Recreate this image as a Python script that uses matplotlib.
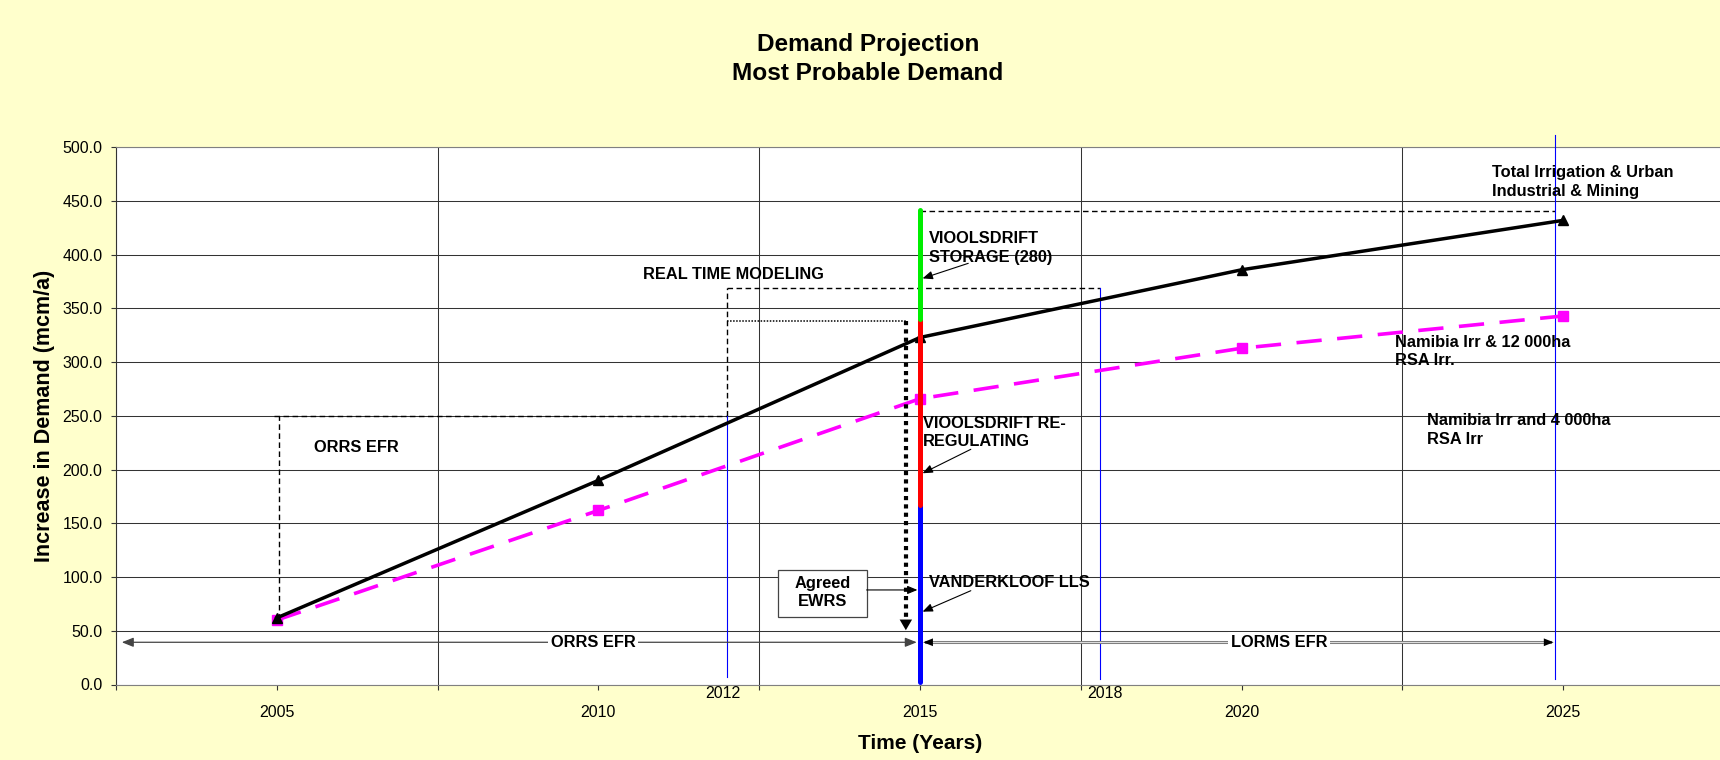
import matplotlib.pyplot as plt
from matplotlib.patches import Rectangle
from matplotlib.transforms import blended_transform_factory

plt.rcParams['font.family'] = ['Liberation Sans', 'DejaVu Sans']

# Demand series (mcm/a)
years = [2005, 2010, 2015, 2020, 2025]
total_demand = [62, 190, 323, 386, 432]
namibia_rsa_irr = [60, 162, 266, 313, 343]

# Supply options stacked at 2015: (from, to)
option_names = ["VANDERKLOOF LLS", "VIOOLSDRIFT RE-\nREGULATING", "VIOOLSDRIFT\nSTORAGE (280)"]
option_ranges = [(2, 167), (167, 340), (340, 442)]
option_colors = ['#0000FF', '#FF0000', '#00EE00']

# Reference levels
orrs_efr_level = 250
real_time_level = 369
agreed_ewrs_level = 338
total_top_level = 441
efr_arrow_level = 39.3

# Marker years for the timeline
year_2012 = 2012
year_2018 = 2017.8
year_2025 = 2024.88

fig = plt.figure(figsize=(17.2, 7.6), dpi=100, facecolor='#FFFFCC')
ax = fig.add_axes([116 / 1720, 1 - 684.5 / 760, 1608 / 1720, 537.2 / 760])
ax.set_facecolor('white')

ax.set_xlim(2002.5, 2027.5)
ax.set_ylim(0, 500)

# grid and ticks
ax.set_yticks(range(0, 501, 50))
ax.set_yticklabels([f"{v:.1f}" for v in range(0, 501, 50)])
ax.set_xticks([2002.5, 2007.5, 2012.5, 2017.5, 2022.5, 2027.5])
ax.set_xticklabels([])
ax.set_xticks(years, minor=True)
ax.set_xticklabels([str(y) for y in years], minor=True)
ax.tick_params(axis='y', which='major', length=3.6, width=0.8, pad=6.3, labelsize=11.5, color='#333333')
ax.tick_params(axis='x', which='both', length=3.6, width=0.8, pad=11, labelsize=11.5, color='#333333')
ax.grid(True, axis='both', which='major', color='#333333', lw=0.75, zorder=0)
ax.set_axisbelow(True)
for side in ['top', 'bottom', 'right']:
    ax.spines[side].set_color('#808080')
ax.spines['left'].set_color('#333333')

# dashed / dotted outlines of the phases
dash = dict(color='black', lw=1.0, dashes=(4, 2.5), zorder=3)
ax.plot([2005.04, 2005.04], [61, orrs_efr_level], **dash)
ax.plot([2004.95, year_2012], [orrs_efr_level, orrs_efr_level], **dash)
ax.plot([year_2012, year_2012], [orrs_efr_level, real_time_level], **dash)
ax.plot([year_2012, year_2018], [real_time_level, real_time_level], **dash)
ax.plot([2015, year_2025], [total_top_level, total_top_level], **dash)
ax.plot([year_2012, 2014.78], [agreed_ewrs_level, agreed_ewrs_level],
        color='black', lw=1.1, ls=(0, (1, 1)), zorder=3)

# thin blue timeline markers
ax.plot([year_2012, year_2012], [7, orrs_efr_level], color='#0000FF', lw=0.8, zorder=3)
ax.plot([year_2018, year_2018], [5, real_time_level], color='#0000FF', lw=0.8, zorder=3)
ax.plot([year_2025, year_2025], [5, 511], color='#0000FF', lw=0.8, zorder=3, clip_on=False)

# demand lines
ax.plot(years, namibia_rsa_irr, color='#FF00FF', lw=2.6, dashes=(7, 4.3),
        marker='s', ms=6.5, zorder=4)
ax.plot(years, total_demand, color='black', lw=2.5, marker='^', ms=7, zorder=5)

# supply options bar at 2015
for (lo, hi), col in zip(option_ranges, option_colors):
    ax.plot([2015, 2015], [lo, hi], color=col, lw=3.6, solid_capstyle='round', zorder=6)

# agreed EWRS dotted arrow
ax.plot([2014.78, 2014.78], [agreed_ewrs_level, 58], color='black', lw=3, ls=(0, (1, 1)), zorder=6)
ax.annotate('', xy=(2014.78, 50.5), xytext=(2014.78, 62),
            arrowprops=dict(arrowstyle='-|>,head_length=0.55,head_width=0.32', mutation_scale=14,
                            color='black', lw=0, shrinkA=0, shrinkB=0), zorder=7)

# EFR span arrows along the bottom
ax.annotate('', xy=(2002.59, efr_arrow_level), xytext=(2014.95, efr_arrow_level),
            arrowprops=dict(arrowstyle='<|-|>,head_length=0.7,head_width=0.28', mutation_scale=10,
                            color='#444444', lw=0.9, shrinkA=0, shrinkB=0), zorder=5)
ax.plot([2015.1, 2024.8], [efr_arrow_level, efr_arrow_level], color='#7f7f7f', lw=2.2, zorder=5)
ax.plot([2015.1, 2024.8], [efr_arrow_level, efr_arrow_level], color='#e0e0e0', lw=0.7, zorder=5)
ax.annotate('', xy=(2015.05, efr_arrow_level), xytext=(2024.85, efr_arrow_level),
            arrowprops=dict(arrowstyle='<|-|>,head_length=0.7,head_width=0.28', mutation_scale=10,
                            color='black', lw=0, shrinkA=0, shrinkB=0), zorder=5)

lbl = dict(fontsize=11.8, fontweight='bold', color='black', zorder=8)
white_box = dict(facecolor='white', edgecolor='none', pad=2)
ax.text(2009.92, efr_arrow_level, "ORRS EFR", ha='center', va='center', bbox=white_box, **lbl)
ax.text(2020.58, efr_arrow_level, "LORMS EFR", ha='center', va='center', bbox=white_box, **lbl)

# labels for the supply options, with pointer arrows
ax.text(2015.14, 406.5, option_names[2], ha='left', va='center', linespacing=1.3, **lbl)
ax.text(2015.04, 234.7, option_names[1], ha='left', va='center', linespacing=1.3, **lbl)
ax.text(2015.14, 94.8, option_names[0], ha='left', va='center', **lbl)
thin_arrow = dict(arrowstyle='-|>,head_length=0.6,head_width=0.25', mutation_scale=10,
                  color='black', lw=0.8, shrinkA=0, shrinkB=0)
ax.annotate('', xy=(2015.04, 378), xytext=(2015.75, 392), arrowprops=thin_arrow, zorder=8)
ax.annotate('', xy=(2015.04, 196.6), xytext=(2015.79, 218.9), arrowprops=thin_arrow, zorder=8)
ax.annotate('', xy=(2015.04, 67.8), xytext=(2015.79, 87.3), arrowprops=thin_arrow, zorder=8)

# agreed EWRS box
ax.add_patch(Rectangle((2012.80, 63.1), 1.37, 43.5, facecolor='white', edgecolor='#444444',
                       lw=0.9, zorder=7))
ax.text(2013.485, 85.7, "Agreed\nEWRS", ha='center', va='center', linespacing=1.3, **lbl)
ax.annotate('', xy=(2014.96, 88), xytext=(2014.17, 88), arrowprops=thin_arrow, zorder=8)

# other annotations
ax.text(2010.69, 381.8, "REAL TIME MODELING", ha='left', va='center', **lbl)
ax.text(2005.58, 220.8, "ORRS EFR", ha='left', va='center', **lbl)
ax.text(2023.89, 467.6, "Total Irrigation & Urban\nIndustrial & Mining", ha='left', va='center',
        linespacing=1.3, **lbl)
ax.text(2022.39, 309.8, "Namibia Irr & 12 000ha\nRSA Irr.", ha='left', va='center',
        linespacing=1.3, **lbl)
ax.text(2022.89, 236.9, "Namibia Irr and 4 000ha\nRSA Irr", ha='left', va='center',
        linespacing=1.3, **lbl)

# extra year labels under the axis
tr = blended_transform_factory(ax.transData, ax.transAxes)
ax.text(2011.93, -0.002, "2012", transform=tr, ha='center', va='top', fontsize=11.5)
ax.text(2017.88, -0.002, "2018", transform=tr, ha='center', va='top', fontsize=11.5)

ax.set_xlabel("Time (Years)", fontsize=15, fontweight='bold')
ax.xaxis.set_label_coords(0.5, -0.092)
ax.set_ylabel("Increase in Demand (mcm/a)", fontsize=15.5, fontweight='bold')
ax.yaxis.set_label_coords(-0.038, 0.5)

fig.text(868 / 1720, 1 - 59 / 760, "Demand Projection\nMost Probable Demand", ha='center', va='center',
         fontsize=17.6, fontweight='bold', linespacing=1.35)

fig.savefig("out.png", dpi=100, facecolor=fig.get_facecolor())
